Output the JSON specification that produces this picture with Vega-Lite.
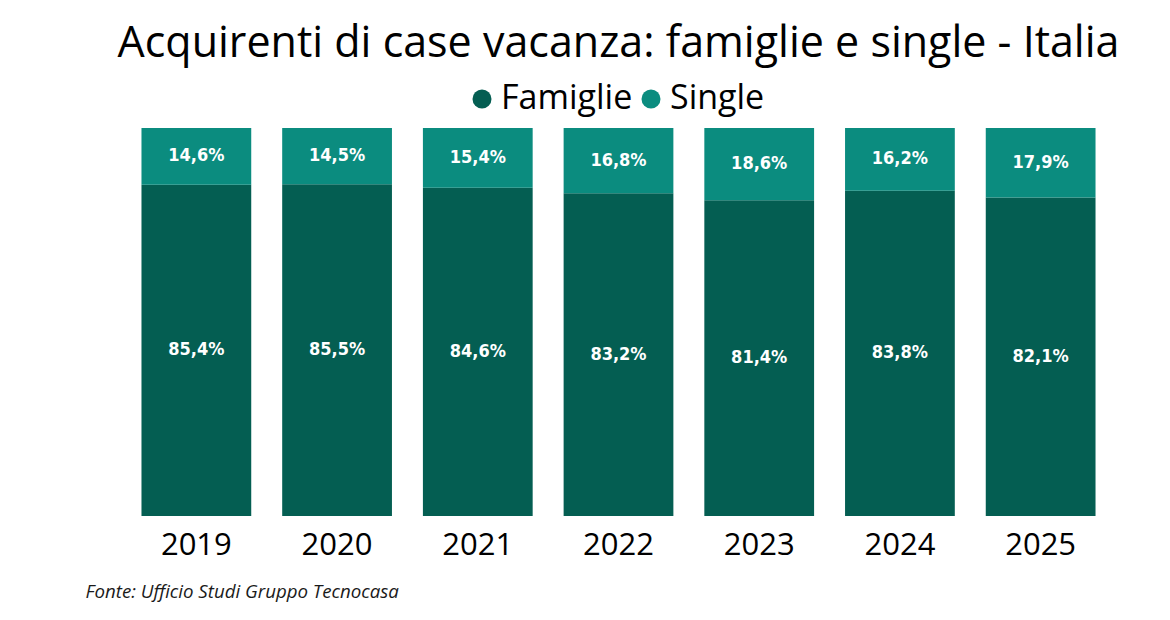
{
  "$schema": "https://vega.github.io/schema/vega-lite/v6.json",
  "description": "Acquirenti di case vacanza: famiglie e single - Italia, 100% stacked bars.",
  "autosize": "none",
  "width": 985,
  "height": 388,
  "padding": {"left": 126, "top": 128, "right": 59, "bottom": 104},
  "background": "white",
  "view": {"stroke": null},

  "title": {
    "text": "Acquirenti di case vacanza: famiglie e single - Italia",
    "font": "Open Sans",
    "fontSize": 43,
    "fontWeight": "normal",
    "color": "black",
    "anchor": "middle",
    "offset": 16
  },

  "data": {
    "values": [
      {"anno": "2019", "gruppo": "Famiglie", "quota": 0.854},
      {"anno": "2019", "gruppo": "Single", "quota": 0.146},
      {"anno": "2020", "gruppo": "Famiglie", "quota": 0.855},
      {"anno": "2020", "gruppo": "Single", "quota": 0.145},
      {"anno": "2021", "gruppo": "Famiglie", "quota": 0.846},
      {"anno": "2021", "gruppo": "Single", "quota": 0.154},
      {"anno": "2022", "gruppo": "Famiglie", "quota": 0.832},
      {"anno": "2022", "gruppo": "Single", "quota": 0.168},
      {"anno": "2023", "gruppo": "Famiglie", "quota": 0.814},
      {"anno": "2023", "gruppo": "Single", "quota": 0.186},
      {"anno": "2024", "gruppo": "Famiglie", "quota": 0.838},
      {"anno": "2024", "gruppo": "Single", "quota": 0.162},
      {"anno": "2025", "gruppo": "Famiglie", "quota": 0.821},
      {"anno": "2025", "gruppo": "Single", "quota": 0.179}
    ]
  },

  "transform": [
    {"stack": "quota", "groupby": ["anno"], "sort": [{"field": "gruppo", "order": "ascending"}], "as": ["q0", "q1"]},
    {"calculate": "(datum.q0 + datum.q1) / 2", "as": "qmid"}
  ],

  "encoding": {
    "x": {
      "field": "anno",
      "type": "ordinal",
      "scale": {"paddingInner": 0.22, "paddingOuter": 0.11},
      "axis": {
        "labelAngle": 0,
        "labelFont": "Open Sans",
        "labelFontSize": 31,
        "labelColor": "black",
        "labelPadding": 14,
        "ticks": false,
        "domain": false,
        "grid": false,
        "title": "Fonte: Ufficio Studi Gruppo Tecnocasa",
        "titleFont": "Open Sans",
        "titleFontSize": 18.7,
        "titleFontStyle": "italic",
        "titleFontWeight": "normal",
        "titleColor": "#1a1a1a",
        "titleAlign": "left",
        "titleBaseline": "alphabetic",
        "titleX": -41,
        "titleY": 81
      }
    }
  },

  "layer": [
    {
      "mark": {"type": "bar"},
      "encoding": {
        "y": {"field": "q0", "type": "quantitative", "scale": {"domain": [0, 1]}, "axis": null},
        "y2": {"field": "q1"},
        "color": {
          "field": "gruppo",
          "type": "nominal",
          "scale": {"domain": ["Famiglie", "Single"], "range": ["#045e52", "#0b8c7f"]},
          "legend": {
            "title": null,
            "orient": "none",
            "direction": "horizontal",
            "legendX": 339,
            "legendY": -46,
            "symbolType": "circle",
            "symbolSize": 361,
            "symbolStrokeWidth": 0,
            "labelFont": "Open Sans",
            "labelFontSize": 34,
            "labelColor": "black",
            "labelOffset": 2,
            "columnPadding": 1,
            "padding": 0
          }
        }
      }
    },
    {
      "mark": {
        "type": "text",
        "font": "DejaVu Sans Condensed",
        "fontWeight": "bold",
        "fontSize": 18,
        "color": "white",
        "baseline": "middle",
        "align": "center"
      },
      "encoding": {
        "y": {"field": "qmid", "type": "quantitative", "scale": {"domain": [0, 1]}},
        "text": {"field": "quota", "type": "quantitative", "format": ".1%"}
      }
    }
  ],

  "config": {
    "locale": {
      "number": {"decimal": ",", "thousands": ".", "grouping": [3], "currency": ["€", ""]}
    }
  }
}
